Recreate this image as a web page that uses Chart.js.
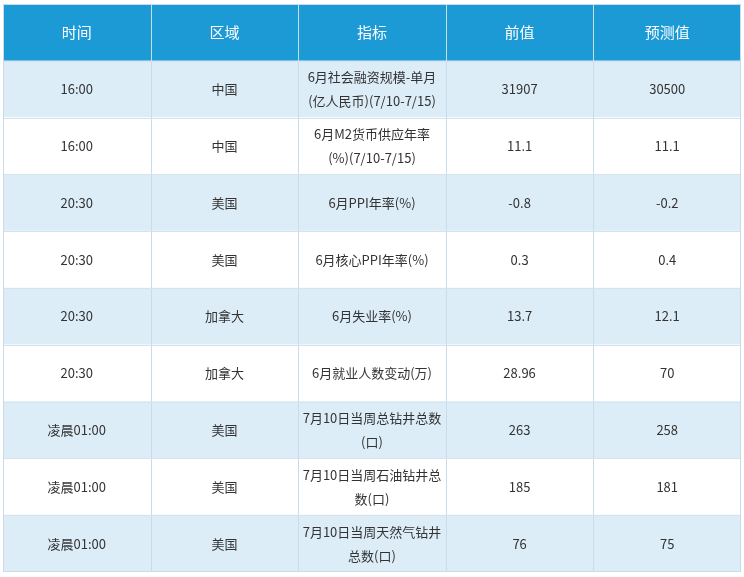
<!DOCTYPE html>
<html>
<head>
<meta charset="utf-8">
<script src="https://cdn.jsdelivr.net/npm/chart.js@4"></script>
<style>
  html, body { margin: 0; padding: 0; background: #fff; }
  #wrap { position: absolute; left: 3px; top: 4px; width: 738px; height: 568px; }
</style>
</head>
<body>
<div id="wrap"><canvas id="c"></canvas></div>
<script>
const headers = ['时间', '区域', '指标', '前值', '预测值'];
const times = ['16:00', '16:00', '20:30', '20:30', '20:30', '20:30', '凌晨01:00', '凌晨01:00', '凌晨01:00'];
const regions = ['中国', '中国', '美国', '美国', '加拿大', '加拿大', '美国', '美国', '美国'];
const indicators = [
  '6月社会融资规模-单月\n(亿人民币)(7/10-7/15)',
  '6月M2货币供应年率\n(%)(7/10-7/15)',
  '6月PPI年率(%)',
  '6月核心PPI年率(%)',
  '6月失业率(%)',
  '6月就业人数变动(万)',
  '7月10日当周总钻井总数\n(口)',
  '7月10日当周石油钻井总\n数(口)',
  '7月10日当周天然气钻井\n总数(口)'
];
const previous = ['31907', '11.1', '-0.8', '0.3', '13.7', '28.96', '263', '185', '76'];
const forecasts = ['30500', '11.1', '-0.2', '0.4', '12.1', '70', '258', '181', '75'];

const rows = [headers];
for (let i = 0; i < times.length; i++) {
  rows.push([times[i], regions[i], indicators[i], previous[i], forecasts[i]]);
}
const rowLabels = rows.map((r, i) => 'r' + i);
const rowColors = rows.map((r, i) => i === 0 ? '#1b9ad6' : (i % 2 === 1 ? '#dcedf8' : '#ffffff'));

const tablePlugin = {
  id: 'tableText',
  afterDatasetsDraw(chart) {
    const ctx = chart.ctx;
    const xs = chart.scales.x, ys = chart.scales.y;
    const top = chart.chartArea.top, bottom = chart.chartArea.bottom;
    ctx.save();
    // column separators
    for (let j = 1; j < headers.length; j++) {
      const x = Math.round(xs.getPixelForValue(j)) + 0.5;
      ctx.strokeStyle = '#c9dde9';
      ctx.lineWidth = 1;
      ctx.beginPath(); ctx.moveTo(x, top); ctx.lineTo(x, bottom); ctx.stroke();
    }
    // row separators
    for (let i = 1; i < rows.length; i++) {
      const y = Math.round((ys.getPixelForValue(i - 1) + ys.getPixelForValue(i)) / 2) + 0.5;
      ctx.strokeStyle = '#d3e4ee';
      ctx.beginPath(); ctx.moveTo(chart.chartArea.left, y); ctx.lineTo(chart.chartArea.right, y); ctx.stroke();
    }
    ctx.strokeStyle = '#c9dde9';
    ctx.strokeRect(chart.chartArea.left + 0.5, top + 0.5, chart.chartArea.right - chart.chartArea.left - 1, bottom - top - 1);
    ctx.textAlign = 'center';
    ctx.textBaseline = 'middle';
    rows.forEach((row, i) => {
      const yc = ys.getPixelForValue(i);
      ctx.fillStyle = i === 0 ? '#ffffff' : '#333333';
      ctx.font = i === 0 ? '15px "Microsoft YaHei", "Noto Sans CJK SC", sans-serif' : '13px "Noto Sans CJK SC", sans-serif';
      row.forEach((txt, j) => {
        const xc = xs.getPixelForValue(j + 0.5);
        const lines = txt.split('\n');
        const lh = 24;
        lines.forEach((ln, k) => {
          ctx.fillText(ln, xc, yc + (k - (lines.length - 1) / 2) * lh);
        });
      });
    });
    ctx.restore();
  }
};

new Chart(document.getElementById('c'), {
  type: 'bar',
  data: {
    labels: rowLabels,
    datasets: [{
      data: rows.map(() => [0, headers.length]),
      backgroundColor: rowColors,
      borderWidth: 0,
      barPercentage: 1,
      categoryPercentage: 1
    }]
  },
  options: {
    indexAxis: 'y',
    responsive: true,
    maintainAspectRatio: false,
    animation: false,
    layout: { padding: 0 },
    plugins: { legend: { display: false }, tooltip: { enabled: false } },
    scales: {
      x: { type: 'linear', min: 0, max: headers.length, display: false },
      y: { type: 'category', display: false, grid: { display: false } }
    }
  },
  plugins: [tablePlugin]
});
</script>
</body>
</html>
